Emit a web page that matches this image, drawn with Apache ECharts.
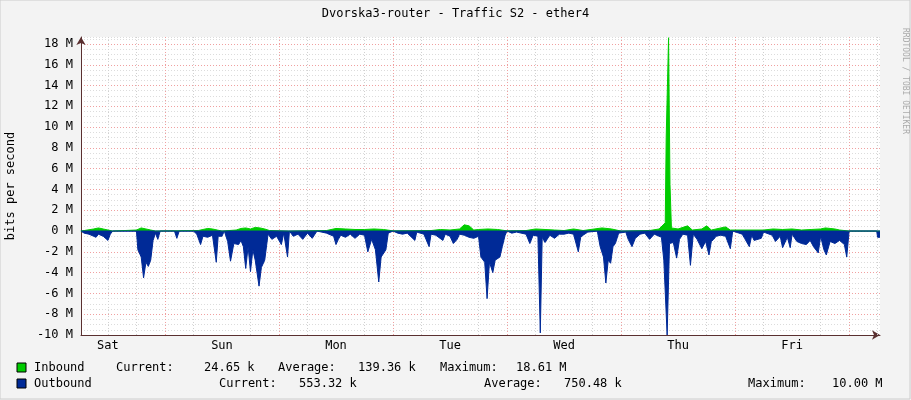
<!DOCTYPE html>
<html><head><meta charset="utf-8">
<script src="https://cdn.jsdelivr.net/npm/echarts@6/dist/echarts.min.js"></script>
<style>html,body{margin:0;padding:0;background:#f3f3f3}#c{width:911px;height:400px}</style>
</head><body><div id="c"></div>
<script>
const dayNames=['Sat','Sun','Mon','Tue','Wed','Thu','Fri'];
const dayLabelHours=[12,36,60,84,108,132,156];
const minorGridHours=[12,18,30,42,54,66,78,90,102,114,126,138,150,162,174];
const dayGridHours=[24,48,72,96,120,144,168];
const outHours=[6.3,7,8,9,9.5,10,11,12,12.5,13,18,18.3,19,19.5,20,20.5,21,21.5,22,22.5,23,26,26.5,27,30,30.7,31.5,32,33,34,34.8,35.2,36,36.5,37.2,37.8,38.5,39.5,40,40.5,41,41.5,42,42.5,43,43.8,44.3,45,45.7,46.5,47.5,48.5,49,49.8,50.2,51,52,53,54,55,56,58,59.5,60,60.5,61,62,63,64,65,66,66.7,67.5,68.3,69,69.5,70.5,71,72,73,74,75,76.6,77,78.5,79.6,80,81,82.5,83,84,84.7,85.5,86,87,88,89,90,90.5,91.3,91.8,92.3,93,93.5,94.5,95,95.6,96,97,98,100,100.8,101.5,102.5,103,103.4,104,105,106,107,108,109,110,111,111.5,112,113,115,115.6,116.3,116.8,117.3,117.8,118.3,118.8,119.5,121,121.5,122.3,123,124,125,126,127,128.5,129,129.7,130.2,131,131.7,132.3,133,134,134.6,135.2,136,137,137.8,138.5,139,139.5,140,141,142,143,143.5,145.5,146,147,147.5,148,149.5,150,151.8,152.5,153.5,154,155,155.6,156,157,158,159,159.8,160.5,161.5,162,162.7,163.2,164,165,166,167,167.5,168,173.8,174,174.5];
const outVals=[0,-0.2,-0.3,-0.5,-0.6,-0.3,-0.5,-0.9,-0.3,0,0,-1.8,-2.5,-4.5,-3,-3.4,-2.8,-0.9,-0.2,-0.8,0,0,-0.7,0,0,-0.3,-1.3,-0.5,-0.6,-0.4,-3,-0.5,-0.5,0,-1,-2.9,-1.2,-1.3,-0.9,-1.5,-3.6,-1.5,-3.9,-1.8,-2.8,-5.3,-3.5,-2.8,-0.3,-0.8,-0.5,-1.3,-0.2,-2.5,0,-0.5,-0.3,-0.8,-0.2,-0.7,0,-0.2,-0.5,-1.3,-0.8,-0.4,-0.6,-0.3,-0.7,-0.3,-0.4,-2,-0.8,-1.8,-4.9,-2.5,-1.8,-0.2,0,-0.2,-0.3,-0.2,-0.9,-0.1,-0.3,-1.5,-0.3,-0.4,-0.9,-0.3,-0.5,-1.2,-0.8,-0.3,-0.4,-0.6,-0.7,-0.5,-2.5,-3,-6.5,-3,-4,-2.8,-2.5,-1.5,-0.4,0,-0.2,-0.1,-0.3,-1.2,-0.4,-0.5,-9.8,-0.6,-1.1,-0.4,-0.7,-0.3,-0.3,-0.2,-0.3,-2,-0.6,-0.4,-0.1,0,-1.5,-2.5,-5,-2.8,-3.1,-1.5,-1.2,-0.2,-0.1,-0.8,-1.5,-0.7,-0.3,-0.2,-0.8,-0.3,-0.6,-2.8,-10,-1.2,-1.1,-2.6,-0.8,-0.3,-0.4,-3.3,-0.3,-0.8,-1.7,-1,-2.3,-1,-0.8,-0.5,-0.4,-0.5,-1.7,0,-0.3,-0.7,-1.5,-0.4,-0.9,-0.7,-0.1,-0.4,-1,-0.5,-1.6,-0.6,-1.6,-0.3,-1,-1.2,-1.3,-0.9,-1.5,-2.1,-0.5,-1.8,-2.3,-1,-1.2,-0.9,-1.3,-2.5,0,0,-0.6,-0.6];
const inHours=[6.3,7,9,10,11,12,13,18,19,20,21,22,31,32,33,34,35,36,39,40,41,42,43,44,45,46,50,58,60,62,64,66,68,70,72,80,82,84,86,87,88,89,90,92,94,96,100,102,104,106,108,110,112,116,118,120,126,128,129.3,129.5,130,130.3,130.6,132,134,135,137,138,139,142,143,150,152,154,156,158,160,162,163,164,165,166,168,174.5];
const inVals=[0,0.05,0.2,0.3,0.2,0.1,0,0.1,0.3,0.2,0.1,0,0.05,0.15,0.25,0.2,0.1,0,0.1,0.25,0.3,0.2,0.35,0.3,0.2,0.05,0,0.05,0.25,0.2,0.15,0.15,0.2,0.15,0.02,0.05,0.15,0.1,0.2,0.6,0.5,0.1,0.15,0.2,0.15,0.02,0.05,0.2,0.15,0.1,0.05,0.2,0.05,0.3,0.2,0,0.05,0.2,0.8,9,18.6,4.5,0.3,0.2,0.5,0.1,0.2,0.5,0.1,0.4,0.1,0.1,0.2,0.15,0.2,0.1,0.15,0.2,0.3,0.25,0.2,0.1,0,0];
const legendRows=[
 {y:368,color:'#00cc00',items:[[34,'Inbound'],[116,'Current:'],[204,'24.65 k'],[278,'Average:'],[358,'139.36 k'],[440,'Maximum:'],[516,'18.61 M']]},
 {y:384,color:'#002a97',items:[[34,'Outbound'],[219,'Current:'],[299,'553.32 k'],[484,'Average:'],[564,'750.48 k'],[748,'Maximum:'],[832,'10.00 M']]}
];
const mono='"DejaVu Sans Mono", monospace';
const chart=echarts.init(document.getElementById('c'));
const vLines=minorGridHours.map(h=>({xAxis:h,lineStyle:{color:'#d0d0d0',type:[1,2],width:1}}))
 .concat(dayGridHours.map(h=>({xAxis:h,lineStyle:{color:'#f0a0a0',type:[1,2],width:1}})));
const graphics=[
 {type:'rect',shape:{x:0,y:0,width:910,height:399},style:{fill:'none',stroke:'#cccccc',lineWidth:1},silent:true},
 {type:'text',left:'center',top:8,style:{text:'Dvorska3-router - Traffic S2 - ether4',font:'12px '+mono,fill:'#000'}},
 {type:'text',x:909,y:28,rotation:-Math.PI/2,style:{text:'RRDTOOL / TOBI OETIKER',font:'8px '+mono,fill:'#aaaaaa'}},
 {type:'text',x:5,y:186,rotation:Math.PI/2,originX:0,originY:0,style:{text:'bits per second',font:'12px '+mono,fill:'#000',align:'center',verticalAlign:'top'}}
];
legendRows.forEach(r=>{
 graphics.push({type:'rect',shape:{x:17,y:r.y-5,width:9,height:9},style:{fill:r.color,stroke:'#000',lineWidth:1}});
 r.items.forEach(([x,t])=>graphics.push({type:'text',x:x,y:r.y,style:{text:t,font:'12px '+mono,fill:'#000',verticalAlign:'middle'}}));
});
chart.setOption({
 animation:false,
 backgroundColor:'#f3f3f3',
 graphic:graphics,
 grid:{left:81,right:31,top:37,bottom:65,backgroundColor:'#ffffff',show:true,borderWidth:0},
 xAxis:{type:'value',min:6.33,max:174.5,
  axisLine:{show:true,onZero:false,lineStyle:{color:'#5a3030'},symbol:['none','arrow'],symbolSize:[7,8]},
  axisTick:{show:false},splitLine:{show:false},
  axisLabel:{customValues:dayLabelHours,formatter:v=>dayNames[dayLabelHours.indexOf(v)]||'',fontFamily:'DejaVu Sans Mono',fontSize:12,color:'#000',margin:5}},
 yAxis:{type:'value',min:-10,max:18.67,interval:0.5,
  axisLine:{show:true,onZero:false,lineStyle:{color:'#5a3030'},symbol:['none','arrow'],symbolSize:[7,8]},
  axisTick:{show:false},
  axisLabel:{formatter:v=>(Math.abs(v%2)<1e-9?v+' M':''),fontFamily:'DejaVu Sans Mono',fontSize:12,color:'#000',margin:8,showMaxLabel:false},
  splitLine:{show:true,lineStyle:{color:['#f0a0a0','#dcdcdc','#dcdcdc','#dcdcdc'],type:[1,2],width:1}}},
 series:[
  {type:'line',data:outHours.map((h,i)=>[h,outVals[i]]),showSymbol:false,lineStyle:{width:1,color:'#002a97'},areaStyle:{color:'#002a97',opacity:1},z:3,
   markLine:{silent:true,symbol:'none',label:{show:false},data:vLines,z:1}},
  {type:'line',data:inHours.map((h,i)=>[h,inVals[i]]),showSymbol:false,lineStyle:{width:1,color:'#00cc00'},areaStyle:{color:'#00cc00',opacity:1},z:4},
  {type:'line',data:[[6.33,0],[174.5,0]],showSymbol:false,lineStyle:{width:1,color:'#002a97'},z:5}
 ]
});
</script></body></html>
